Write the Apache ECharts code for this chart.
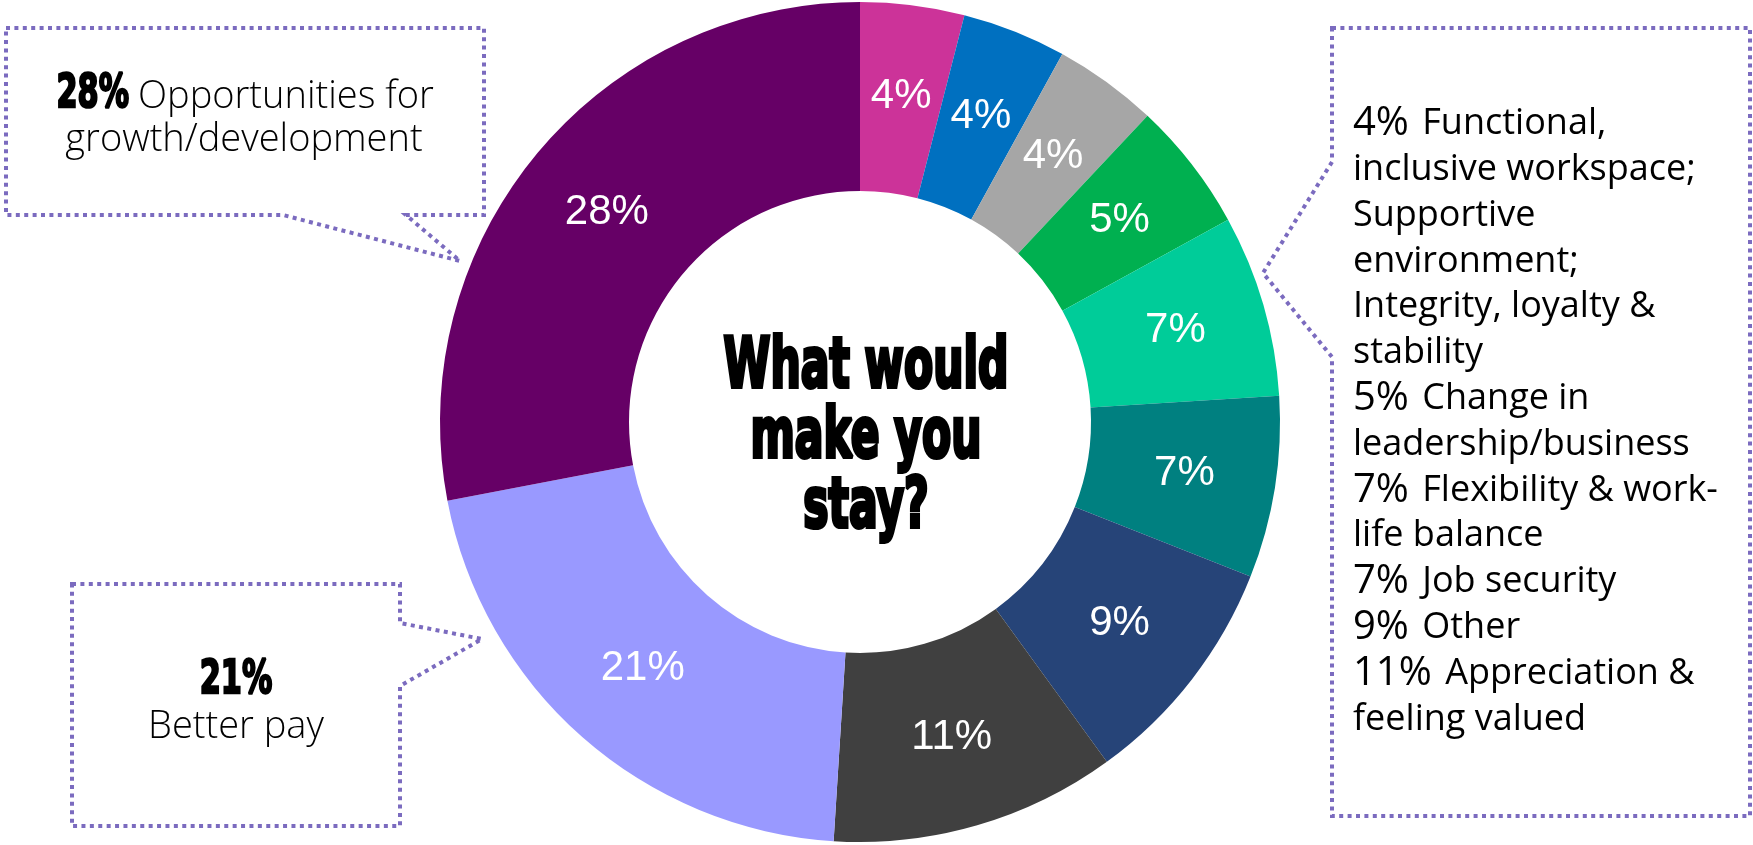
<!DOCTYPE html>
<html>
<head>
<meta charset="utf-8">
<title>What would make you stay?</title>
<script src="https://cdn.jsdelivr.net/npm/echarts@6/dist/echarts.min.js"></script>
<style>
  html, body { margin: 0; padding: 0; background: #ffffff; }
  #chart { width: 1753px; height: 845px; }
</style>
</head>
<body>
<div id="chart"></div>
<script>
// Survey answers, clockwise from 12 o'clock
const categories = [
  'Functional, inclusive workspace',
  'Supportive environment',
  'Integrity, loyalty & stability',
  'Change in leadership/business',
  'Flexibility & work-life balance',
  'Job security',
  'Other',
  'Appreciation & feeling valued',
  'Better pay',
  'Opportunities for growth/development'
];
const values = [4, 4, 4, 5, 7, 7, 9, 11, 21, 28];
const sliceColors = [
  '#CC3399', '#0070C0', '#A6A6A6', '#00B050', '#00CC99',
  '#008080', '#264478', '#404040', '#9999FF', '#660066'
];

const centerTitle = ['What would', 'make you', 'stay?'];

// Right-hand list: [index of the value shown in front, text of the line]
const sideListLines = [
  [0, 'Functional,'],
  [null, 'inclusive workspace;'],
  [null, 'Supportive'],
  [null, 'environment;'],
  [null, 'Integrity, loyalty &'],
  [null, 'stability'],
  [3, 'Change in'],
  [null, 'leadership/business'],
  [4, 'Flexibility & work-'],
  [null, 'life balance'],
  [5, 'Job security'],
  [6, 'Other'],
  [7, 'Appreciation &'],
  [null, 'feeling valued']
];

// Callout wording for the two largest answers
const growthLines = ['Opportunities for', 'growth/development'];
const payLines = ['Better pay'];

const pct = i => values[i] + '%';

const BOX_COLOR = '#7B6BBF';
const HEAVY_FONT = '"DejaVu Sans", sans-serif';
const BODY_FONT = '"Open Sans", sans-serif';

function dottedOutline(points) {
  return {
    type: 'polygon',
    shape: { points: points },
    style: {
      fill: null,
      stroke: BOX_COLOR,
      lineWidth: 4,
      lineDash: [4, 4.4],
      lineCap: 'butt'
    },
    silent: true
  };
}

function heavyText(str, x, y, size, align) {
  return {
    type: 'text',
    x: x, y: y,
    scaleX: 0.645,
    style: {
      text: str,
      fill: '#000',
      stroke: '#000',
      lineWidth: 2.6,
      font: 'bold ' + size + 'px ' + HEAVY_FONT,
      align: align,
      verticalAlign: 'middle'
    },
    silent: true
  };
}

function bodyText(str, x, y, align, size) {
  return {
    type: 'text',
    x: x, y: y,
    style: {
      text: str,
      fill: '#000',
      font: '300 ' + size + 'px ' + BODY_FONT,
      align: align,
      verticalAlign: 'middle'
    },
    silent: true
  };
}

const sideListText = sideListLines.map(([idx, txt]) =>
  idx === null ? '{t|' + txt + '}' : '{p|' + pct(idx) + '}{t| ' + txt + '}'
).join('\n');

const chart = echarts.init(document.getElementById('chart'), null, { renderer: 'canvas' });

chart.setOption({
  animation: false,
  backgroundColor: '#ffffff',
  series: [{
    type: 'pie',
    center: [860, 422],
    radius: [231, 420],
    startAngle: 90,
    clockwise: true,
    avoidLabelOverlap: false,
    emphasis: { disabled: true },
    itemStyle: { borderWidth: 0 },
    label: {
      show: true,
      position: 'inside',
      formatter: '{c}%',
      color: '#ffffff',
      fontFamily: '"Liberation Sans", Arial, sans-serif',
      fontSize: 42
    },
    labelLine: { show: false },
    data: categories.map((name, i) => ({
      name: name,
      value: values[i],
      itemStyle: { color: sliceColors[i] }
    }))
  }],
  graphic: [
    // question in the hole of the ring
    {
      type: 'text',
      x: 866, y: 439,
      scaleX: 0.645,
      scaleY: 1.04,
      style: {
        text: centerTitle.join('\n'),
        fill: '#000',
        stroke: '#000',
        lineWidth: 4,
        font: 'bold 66px ' + HEAVY_FONT,
        lineHeight: 67,
        align: 'center',
        verticalAlign: 'middle'
      },
      silent: true
    },
    // callout: growth/development
    dottedOutline([[6, 28], [484, 28], [484, 215], [406, 215], [460, 261], [283, 215], [6, 215]]),
    heavyText(pct(9), 129, 95, 47, 'right'),
    bodyText(growthLines[0], 138, 97, 'left', 38),
    bodyText(growthLines[1], 244, 140, 'center', 38),
    // callout: better pay
    dottedOutline([[72, 584], [400, 584], [400, 623], [482, 639], [400, 686], [400, 826], [72, 826]]),
    heavyText(pct(8), 236, 681, 47, 'center'),
    bodyText(payLines[0], 236, 727, 'center', 38),
    // callout: remaining answers
    dottedOutline([[1332, 28], [1750, 28], [1750, 816], [1332, 816], [1332, 357], [1263, 273], [1332, 162]]),
    {
      type: 'text',
      x: 1353, y: 101,
      style: {
        text: sideListText,
        fill: '#000',
        align: 'left',
        verticalAlign: 'top',
        rich: {
          p: { fontFamily: BODY_FONT, fontSize: 40, lineHeight: 45.8, fill: '#000', padding: [0, 4, 0, 0] },
          t: { fontFamily: BODY_FONT, fontSize: 36, lineHeight: 45.8, fill: '#000' }
        }
      },
      silent: true
    }
  ]
});
</script>
</body>
</html>
